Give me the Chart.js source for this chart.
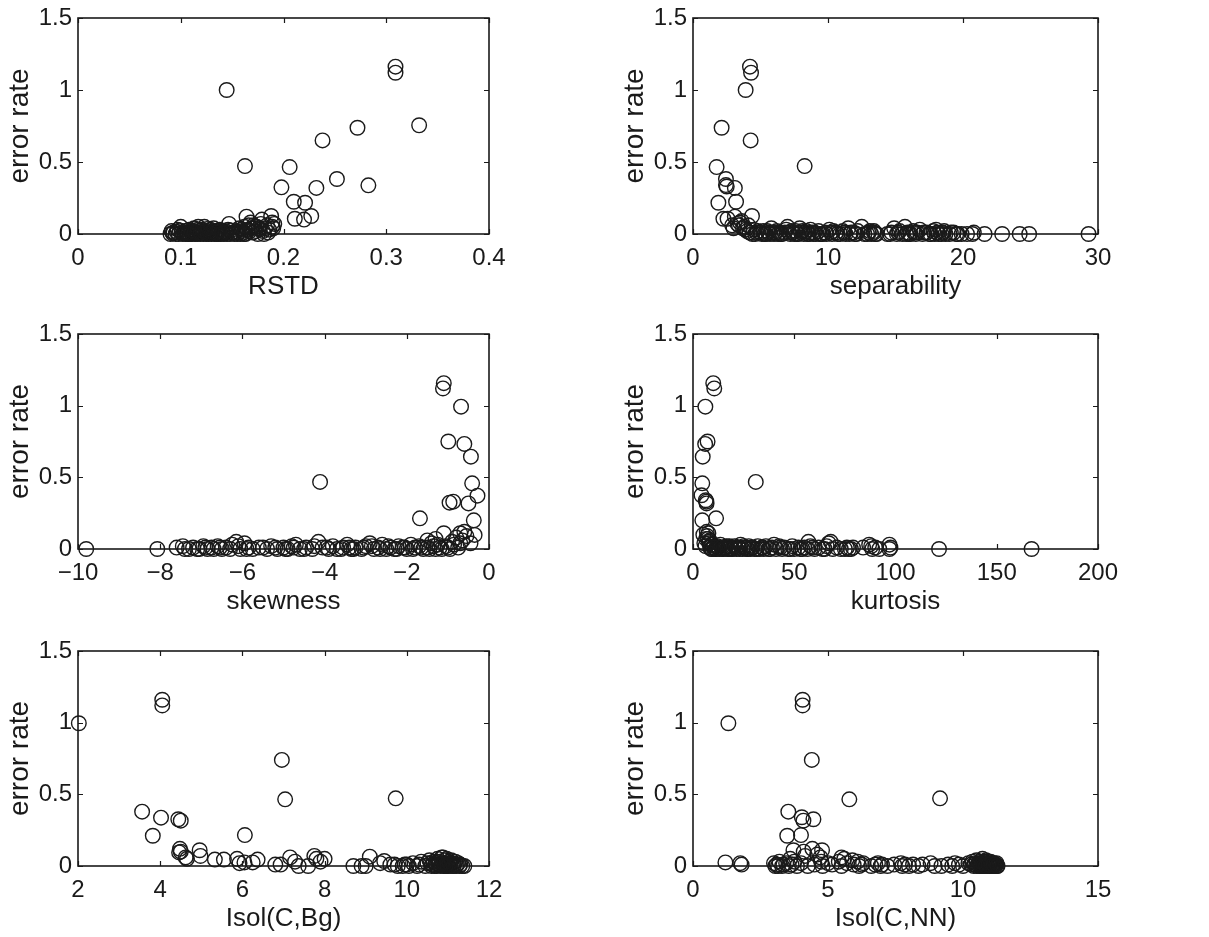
<!DOCTYPE html>
<html>
<head>
<meta charset="utf-8">
<script src="https://cdn.jsdelivr.net/npm/chart.js@4/dist/chart.umd.min.js"></script>
<style>
  html, body { margin: 0; padding: 0; background: #fff; }
  body { width: 1209px; height: 937px; position: relative; overflow: hidden; }
  canvas { position: absolute; }
</style>
</head>
<body>
<canvas id="c1"></canvas>
<canvas id="c2"></canvas>
<canvas id="c3"></canvas>
<canvas id="c4"></canvas>
<canvas id="c5"></canvas>
<canvas id="c6"></canvas>
<script>
// error rate vs. feature as [feature, error rate]
const rstdPts = [
  [0.1447,1.0],[0.309,1.162],[0.309,1.12],[0.332,0.755],[0.272,0.738],[0.238,0.65],
  [0.1625,0.472],[0.206,0.465],[0.252,0.382],[0.2826,0.338],[0.198,0.324],[0.232,0.32],
  [0.210,0.224],[0.221,0.217],[0.227,0.125],[0.211,0.106],[0.220,0.10],
  [0.090,0.0],[0.091,0.02],[0.093,0.01],[0.095,0.0],[0.097,0.03],[0.098,0.0],[0.100,0.05],
  [0.101,0.01],[0.102,0.0],[0.104,0.02],[0.105,0.0],[0.106,0.01],[0.108,0.03],[0.109,0.0],
  [0.110,0.01],[0.111,0.0],[0.112,0.02],[0.113,0.04],[0.114,0.0],[0.115,0.01],[0.116,0.0],
  [0.117,0.05],[0.118,0.02],[0.119,0.0],[0.120,0.01],[0.121,0.03],[0.122,0.0],[0.123,0.05],
  [0.124,0.01],[0.125,0.0],[0.126,0.02],[0.127,0.0],[0.128,0.01],[0.129,0.03],[0.130,0.0],
  [0.131,0.01],[0.132,0.04],[0.133,0.0],[0.134,0.02],[0.135,0.0],[0.136,0.01],[0.137,0.0],
  [0.138,0.03],[0.139,0.0],[0.140,0.01],[0.141,0.02],[0.142,0.0],[0.143,0.01],[0.145,0.0],
  [0.146,0.03],[0.147,0.07],[0.148,0.0],[0.150,0.01],[0.152,0.0],[0.154,0.02],[0.156,0.01],
  [0.157,0.04],[0.158,0.0],[0.160,0.02],[0.161,0.01],[0.162,0.05],[0.163,0.0],[0.164,0.12],
  [0.165,0.03],[0.166,0.06],[0.167,0.02],[0.168,0.08],[0.169,0.04],[0.170,0.01],[0.171,0.06],
  [0.172,0.05],[0.173,0.02],[0.175,0.0],[0.176,0.04],[0.177,0.03],[0.178,0.07],[0.179,0.10],
  [0.180,0.02],[0.182,0.04],[0.184,0.06],[0.186,0.03],[0.188,0.125],[0.189,0.08],[0.189,0.05],
  [0.190,0.04],[0.191,0.07],
  [0.092,0.005],[0.096,0.015],[0.099,0.025],[0.103,0.01],[0.107,0.0],[0.1105,0.025],
  [0.1135,0.015],[0.1165,0.03],[0.1195,0.01],[0.1225,0.02],[0.1255,0.035],[0.1285,0.005],
  [0.1315,0.02],[0.1345,0.01],[0.1375,0.025],[0.1405,0.005],[0.1435,0.02],[0.149,0.025],
  [0.153,0.01],[0.155,0.0],[0.159,0.03],[0.1615,0.0],[0.174,0.05],[0.181,0.0],[0.185,0.01]
];
const sepPts = [
  [4.22,1.162],[4.3,1.12],[3.9,1.0],[2.12,0.738],[4.27,0.65],[8.27,0.472],[1.75,0.465],
  [2.44,0.382],[2.44,0.34],[2.5,0.33],[3.1,0.32],[1.88,0.217],[3.19,0.224],[2.25,0.106],
  [2.56,0.106],[3.1,0.12],[4.37,0.125],[3.48,0.08],[2.9,0.06],[3.3,0.07],[3.6,0.09],
  [3.0,0.04],[3.8,0.05],[4.1,0.06],[4.5,0.03],[4.8,0.02],
  [3.9,0.03],[4.2,0.01],[4.6,0.0],[5.0,0.01],[5.2,0.02],[5.4,0.0],[5.6,0.01],[5.8,0.04],
  [6.0,0.0],[6.2,0.02],[6.4,0.01],[6.6,0.0],[6.9,0.03],[7.0,0.05],[7.2,0.0],[7.4,0.01],
  [7.6,0.02],[7.8,0.0],[7.9,0.04],[8.0,0.01],[8.2,0.0],[8.4,0.02],[8.6,0.0],[8.8,0.01],
  [9.1,0.0],[9.3,0.02],[9.5,0.0],[9.8,0.01],[10.1,0.03],[10.3,0.0],[10.6,0.01],[10.9,0.0],
  [11.1,0.02],[11.3,0.0],[11.5,0.04],[11.7,0.01],[12.0,0.0],[12.2,0.02],[12.5,0.05],[12.7,0.0],
  [13.0,0.01],[13.2,0.0],[13.4,0.02],[13.6,0.0],[14.4,0.0],[14.7,0.01],[14.9,0.04],[15.1,0.0],
  [15.3,0.02],[15.5,0.0],[15.7,0.05],[15.9,0.01],[16.1,0.0],[16.3,0.02],[16.5,0.0],[16.8,0.03],
  [17.0,0.0],[17.3,0.01],[17.5,0.0],[17.8,0.02],[18.0,0.03],[18.2,0.0],[18.5,0.01],[18.7,0.0],
  [19.0,0.0],[19.3,0.01],[19.6,0.0],[19.9,0.0],[20.3,0.0],[20.7,0.0],[20.8,0.01],[21.6,0.0],
  [22.9,0.0],[24.2,0.0],[24.9,0.0],[29.3,0.0],
  [5.3,0.0],[5.9,0.01],[6.5,0.0],[7.1,0.01],[7.5,0.0],[8.1,0.02],[8.9,0.0],[9.6,0.0],
  [10.4,0.02],[11.9,0.01],[13.4,0.01],[13.5,0.0],[16.0,0.0],[16.6,0.01],[17.6,0.0],[18.1,0.01],
  [18.6,0.02],
  [3.4,0.06],[3.7,0.04],[4.0,0.02],[4.4,0.0],[4.7,0.01],[5.1,0.0],[5.5,0.02],[5.7,0.0],
  [6.1,0.01],[6.3,0.0],[6.8,0.01],[7.3,0.02],[7.7,0.0],[8.3,0.01],[8.5,0.0],[8.7,0.03],
  [9.0,0.01],[9.4,0.0],[9.9,0.0],[10.2,0.01],[10.7,0.0],[11.2,0.01],[11.6,0.0],[12.1,0.0],
  [12.9,0.0],[13.1,0.02],[14.6,0.0],[15.2,0.01],[15.8,0.0],[16.4,0.01],[17.1,0.01],[17.9,0.0],
  [18.4,0.0],[19.1,0.01],[19.5,0.0]
];
const skewPts = [
  [-1.1,1.157],[-1.12,1.12],[-0.68,0.993],[-0.99,0.75],[-0.6,0.733],[-0.44,0.644],
  [-4.11,0.468],[-0.41,0.458],[-0.28,0.372],[-0.96,0.323],[-0.87,0.33],[-0.5,0.318],
  [-0.37,0.2],[-1.68,0.214],[-0.35,0.098],[-1.1,0.11],[-0.7,0.11],[-0.6,0.12],[-0.8,0.08],
  [-0.55,0.09],[-0.45,0.04],[-1.3,0.07],[-1.5,0.06],[-0.9,0.05],[-1.25,0.03],[-0.65,0.06],
  [-9.8,0],[-8.07,0],[-7.6,0.01],[-7.45,0.02],[-7.3,0],[-7.2,0.01],[-7.05,0],[-6.95,0.02],
  [-6.85,0],[-6.75,0.01],[-6.6,0.02],[-6.5,0],[-6.4,0.01],[-6.25,0.03],[-6.15,0.05],[-6.05,0],
  [-5.95,0.04],[-5.85,0.01],[-5.75,0],[-5.6,0.01],[-5.4,0],[-5.3,0.02],[-5.15,0],[-5.0,0.01],
  [-4.9,0],[-4.8,0.02],[-4.7,0.03],[-4.6,0],[-4.45,0.01],[-4.3,0],[-4.15,0.05],[-4.05,0.01],
  [-3.9,0],[-3.8,0.02],[-3.7,0],[-3.55,0.01],[-3.45,0.03],[-3.35,0],[-3.25,0.01],[-3.1,0],
  [-3.0,0.02],[-2.9,0.04],[-2.8,0],[-2.7,0.01],[-2.6,0.03],[-2.5,0],[-2.4,0.01],[-2.3,0],
  [-2.2,0.02],[-2.1,0.01],[-2.0,0],[-1.9,0.03],[-1.8,0.01],[-1.7,0.02],[-1.6,0],[-1.5,0.01],
  [-1.4,0.04],[-1.3,0.0],[-1.2,0.01],[-1.05,0.02],[-0.95,0.0],[-0.85,0.03],[-0.75,0.01],[-0.7,0.04],
  [-7.4,0.0],[-7.1,0.0],[-6.9,0.01],[-6.7,0.0],[-6.55,0.01],[-6.3,0.0],[-6.1,0.02],[-5.9,0.0],
  [-5.5,0.01],[-5.2,0.01],[-4.95,0.0],[-4.75,0.01],[-4.5,0.0],[-4.25,0.02],[-3.95,0.01],
  [-3.6,0.0],[-3.4,0.01],[-3.3,0.0],[-3.05,0.01],[-2.85,0.02],[-2.65,0.0],[-2.45,0.02],
  [-2.25,0.0],[-2.05,0.01],[-1.85,0.0],[-1.65,0.01],[-1.45,0.0],[-1.35,0.02],[-1.15,0.0],[-1.0,0.01]
];
const kurtPts = [
  [10,1.157],[10.5,1.12],[6.1,0.993],[7.2,0.75],[6.0,0.733],[4.8,0.644],[31,0.468],[4.6,0.458],
  [4.2,0.375],[6.6,0.33],[6.7,0.318],[6.3,0.34],[4.6,0.2],[11.4,0.214],[5.1,0.1],[7.6,0.11],
  [6.8,0.12],[7.0,0.09],[6.5,0.07],[8.2,0.06],[5.6,0.04],[7.9,0.05],[9.0,0.03],[6.2,0.02],
  [8.5,0.01],[9.5,0],[10.5,0.02],[11.5,0],[12.5,0.01],[13.5,0.03],[14.5,0],[15.5,0.01],
  [16.5,0.02],[17.5,0],[18.5,0.01],[19.5,0],[20.5,0.02],[21.5,0],[22.5,0.01],[23.5,0.03],
  [24.5,0],[25.5,0.01],[26.5,0],[27.5,0.02],[28.5,0],[29.5,0.01],[30.5,0],[32,0.02],[33,0],
  [34,0.01],[35,0],[36,0.02],[37.5,0],[39,0.01],[40,0.03],[41,0],[42.5,0.02],[44,0],[45,0.01],
  [47,0],[49,0.02],[50,0],[52,0.01],[53,0],[55,0.01],[56.5,0],[57,0.05],[58,0.02],[60,0],
  [62,0.01],[64,0],[66,0.02],[67,0.04],[68,0.05],[69,0],[71,0.01],[73,0],[75,0],[76,0.01],
  [78,0],[79,0.01],[84,0.01],[87,0.03],[88,0.02],[88.5,0],[90,0.01],[92,0],[97,0.03],
  [97.5,0.01],[97,0],[121.5,0],[167.2,0],
  [7.5,0.07],[8.0,0.04],[9.0,0.0],[10.0,0.01],[11.0,0.0],[12.0,0.02],[13.0,0.0],[14.0,0.01],
  [15.0,0.0],[16.0,0.01],[17.0,0.0],[18.0,0.02],[19.0,0.0],[21.0,0.01],[23.0,0.0],[25.0,0.02],
  [27.0,0.0],[29.0,0.01],[31.5,0.0],[34.5,0.01],[38.0,0.0],[43.0,0.01],[48.0,0.0],[54.0,0.0],
  [59.0,0.01],[65.0,0.0],[77.0,0.0]
];
const isolBgPts = [
  [2.02,0.996],[4.05,1.16],[4.05,1.12],[6.96,0.74],[7.04,0.465],[9.73,0.472],[3.56,0.379],
  [4.02,0.337],[4.44,0.326],[4.5,0.316],[3.82,0.211],[6.06,0.216],[4.48,0.12],[4.5,0.1],
  [4.46,0.095],[4.96,0.11],[4.98,0.07],[4.62,0.06],[4.65,0.05],[5.33,0.045],[5.55,0.045],
  [5.87,0.05],[6.05,0.025],[5.93,0.02],[6.25,0.025],[6.37,0.045],[6.8,0.01],[6.93,0.01],
  [7.16,0.06],[7.28,0.03],[7.37,0.0],[7.6,0.0],[7.75,0.07],[7.8,0.05],[7.9,0.03],[8.0,0.05],
  [8.7,0],[8.9,0],[9.0,0],[9.1,0.065],[9.35,0.02],[9.45,0.035],[9.6,0.01],[9.7,0.01],[9.78,0],
  [9.9,0],[9.95,0.01],[10.0,0.01],[10.05,0],[10.15,0.02],[10.25,0],[10.3,0.01],[10.35,0.03],
  [10.45,0],[10.5,0.02],[10.55,0.04],[10.6,0],[10.62,0.01],[10.65,0.03],[10.7,0.02],[10.72,0],
  [10.75,0.05],[10.78,0.01],[10.8,0.03],[10.82,0],[10.85,0.06],[10.87,0.02],[10.9,0],
  [10.92,0.04],[10.95,0.01],[10.97,0.05],[11.0,0],[11.02,0.03],[11.05,0.01],[11.08,0.04],
  [11.1,0],[11.12,0.02],[11.15,0.01],[11.18,0.03],[11.2,0],[11.25,0.02],[11.3,0.01],[11.35,0],
  [11.4,0],[10.88,0.06],[10.93,0],[10.98,0.02],
  [10.58,0.02],[10.68,0.0],[10.74,0.03],[10.84,0.01],[10.91,0.02],[10.99,0.0],[11.04,0.02],
  [11.14,0.0],[11.22,0.01],[11.28,0.0]
];
const isolNnPts = [
  [1.31,0.996],[4.06,1.16],[4.06,1.12],[4.4,0.74],[5.79,0.465],[9.15,0.472],[3.53,0.379],
  [4.03,0.34],[4.09,0.316],[4.46,0.326],[3.49,0.211],[4.0,0.216],[3.72,0.11],[4.1,0.1],
  [4.42,0.12],[4.78,0.11],[4.72,0.06],[4.15,0.07],[3.6,0.05],[4.6,0.08],[5.5,0.06],[5.6,0.05],
  [5.9,0.04],
  [1.2,0.025],[1.75,0.02],[1.8,0.01],[3.0,0.02],[3.05,0],[3.1,0.01],[3.15,0],[3.2,0.03],[3.3,0],
  [3.35,0.01],[3.45,0.02],[3.55,0],[3.65,0.01],[3.75,0.03],[3.85,0],[4.0,0.02],[4.25,0],
  [4.5,0.01],[4.75,0.03],[4.8,0.0],[5.0,0.02],[5.15,0.01],[5.4,0.03],[5.5,0],[5.7,0.02],
  [5.95,0.01],[6.1,0.03],[6.15,0],[6.25,0.01],[6.3,0.02],[6.6,0],[6.75,0.01],[6.85,0.02],
  [6.95,0],[7.0,0.01],[7.2,0],[7.45,0.01],[7.7,0.02],[7.75,0],[7.85,0.01],[8.0,0],[8.15,0.01],
  [8.35,0],[8.5,0.01],[8.8,0.02],[8.95,0],[9.2,0],[9.45,0.01],[9.6,0],[9.7,0.02],[9.85,0.01],
  [10.0,0],[10.2,0.02],[10.3,0.01],[10.35,0.03],[10.4,0],[10.45,0.02],[10.5,0.04],[10.55,0.01],
  [10.6,0],[10.62,0.03],[10.65,0.02],[10.7,0],[10.72,0.05],[10.75,0.01],[10.78,0.03],[10.8,0],
  [10.82,0.02],[10.85,0.04],[10.88,0.01],[10.9,0],[10.92,0.03],[10.95,0.02],[10.98,0],
  [11.0,0.01],[11.02,0.03],[11.05,0],[11.08,0.02],[11.1,0.01],[11.12,0],[11.15,0.02],
  [11.18,0.01],[11.2,0],[11.22,0.01],[11.25,0],[10.52,0],[10.68,0.01],[10.76,0],[10.84,0],
  [10.96,0.01],[11.06,0],
  [10.42,0.01],[10.58,0.02],[10.66,0.0],[10.74,0.02],[10.86,0.0],[10.94,0.01],[11.04,0.02],
  [11.14,0.01],[11.24,0.02],[11.28,0.0]
];

const xTitles = ['RSTD', 'separability', 'skewness', 'kurtosis', 'Isol(C,Bg)', 'Isol(C,NN)'];
const xMins  = [0, 0, -10, 0, 2, 0];
const xMaxs  = [0.4, 30, 0, 200, 12, 15];
const xSteps = [0.1, 10, 2, 50, 2, 5];
const yTitle = 'error rate';
const yMin = 0, yMax = 1.5, yStep = 0.5;

const FONT = "'Liberation Sans', Arial, Helvetica, sans-serif";
const INK = '#1a1a1a';

// matlab style box with inward ticks on all four sides
const boxTicks = {
  id: 'boxTicks',
  afterDraw(chart) {
    const {ctx, chartArea: a, scales: {x, y}} = chart;
    ctx.save();
    ctx.strokeStyle = INK;
    ctx.lineWidth = 1.2;
    ctx.beginPath();
    x.ticks.forEach(t => {
      const px = Math.round(x.getPixelForValue(t.value)) + 0.5;
      ctx.moveTo(px, a.bottom); ctx.lineTo(px, a.bottom - 5);
      ctx.moveTo(px, a.top); ctx.lineTo(px, a.top + 5);
    });
    y.ticks.forEach(t => {
      const py = Math.round(y.getPixelForValue(t.value)) + 0.5;
      ctx.moveTo(a.left, py); ctx.lineTo(a.left + 5, py);
      ctx.moveTo(a.right, py); ctx.lineTo(a.right - 5, py);
    });
    ctx.stroke();
    ctx.lineWidth = 1.6;
    ctx.strokeRect(a.left, a.top, a.right - a.left, a.bottom - a.top);
    ctx.restore();
  }
};

// plain numbers, with a real minus sign like the original
const fmt = v => String(+(+v).toFixed(3)).replace('-', '\u2212');

// canvas boxes (page px) and the plot area inside each
const cols = [{left: 0, width: 600}, {left: 615, width: 594}];
const rows = [{top: 0, height: 305, areaTop: 18, areaBottom: 234},
              {top: 316, height: 305, areaTop: 334, areaBottom: 549},
              {top: 633, height: 304, areaTop: 651, areaBottom: 866}];
const yAxisW = 78, padRight = 111;

function makePanel(i, pts) {
  const col = cols[i % 2], row = rows[Math.floor(i / 2)];
  const cv = document.getElementById('c' + (i + 1));
  cv.width = col.width; cv.height = row.height;
  cv.style.left = col.left + 'px'; cv.style.top = row.top + 'px';
  const xAxisH = row.top + row.height - row.areaBottom;

  new Chart(cv, {
    type: 'scatter',
    data: {
      datasets: [{
        data: pts.map(p => ({x: p[0], y: p[1]})),
        pointStyle: 'circle',
        pointRadius: 7.3,
        pointBorderWidth: 1.4,
        pointBorderColor: INK,
        pointBackgroundColor: 'rgba(0,0,0,0)',
        clip: false
      }]
    },
    options: {
      responsive: false,
      animation: false,
      events: [],
      layout: {padding: {left: 0, top: row.areaTop - row.top, right: padRight, bottom: 0}},
      plugins: {legend: {display: false}, tooltip: {enabled: false}},
      scales: {
        x: {
          type: 'linear',
          min: xMins[i], max: xMaxs[i],
          grid: {display: false, drawTicks: false},
          border: {display: false},
          ticks: {
            stepSize: xSteps[i], autoSkip: false, maxRotation: 0, padding: 10,
            color: INK, font: {family: FONT, size: 24}, callback: fmt
          },
          title: {display: true, text: xTitles[i], color: INK,
                  font: {family: FONT, size: 26, lineHeight: 1},
                  padding: {top: 0, bottom: xAxisH - 53 - 13}},
          afterFit(s) { s.height = xAxisH; s.paddingLeft = 0; s.paddingRight = 0; }
        },
        y: {
          type: 'linear',
          min: yMin, max: yMax,
          grid: {display: false, drawTicks: false},
          border: {display: false},
          ticks: {stepSize: yStep, padding: 6, color: INK,
                  font: {family: FONT, size: 24}, callback: fmt},
          title: {display: true, text: yTitle, color: INK,
                  font: {family: FONT, size: 28, lineHeight: 1},
                  padding: {top: 6, bottom: 0}},
          afterFit(s) { s.width = yAxisW; s.paddingTop = 0; s.paddingBottom = 0; }
        }
      }
    },
    plugins: [boxTicks]
  });
}

[rstdPts, sepPts, skewPts, kurtPts, isolBgPts, isolNnPts].forEach((p, i) => makePanel(i, p));
</script>
</body>
</html>
